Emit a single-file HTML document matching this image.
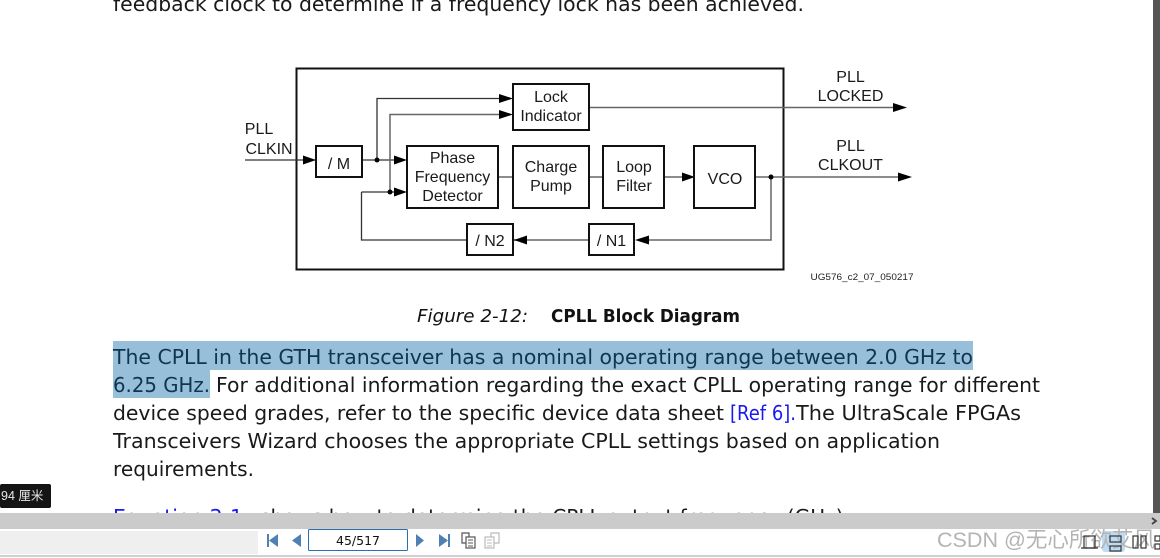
<!DOCTYPE html>
<html><head><meta charset="utf-8"><style>
html,body{margin:0;padding:0;background:#fff;width:1160px;height:558px;overflow:hidden}
svg{display:block}
.b{font-family:"DejaVu Sans",sans-serif;font-size:20px;fill:#1a1a1a}
.h{fill:#0f3550}
.d{font-family:"Liberation Sans",sans-serif;font-size:16px;fill:#1a1a1a;text-anchor:middle}
.box{fill:#fff;stroke:#111;stroke-width:2}
.l{fill:none;stroke:#333;stroke-width:1.3}
.g{fill:none;stroke:#666;stroke-width:1.5}
</style></head><body>
<svg width="1160" height="558" viewBox="0 0 1160 558" xmlns="http://www.w3.org/2000/svg">
<rect width="1160" height="558" fill="#fff"/>
<text class="b" x="113" y="11" textLength="691" lengthAdjust="spacingAndGlyphs">feedback clock to determine if a frequency lock has been achieved.</text>

<rect class="box" x="296.500" y="68.500" width="487" height="201"/>
<path class="l" d="M245 160H316M362 160H394M377 160V98.500H500"/>
<path class="g" d="M390 192V114.500H500M589 107.500H895M498 177H513M589 177H603M664 177H684M755 177H900M771 177V240H646M513 240H588"/>
<path class="l" d="M404 160H394M361.500 192H396M361.500 192V240H467M513 240H525"/>
<path d="M303 155.500L316 160L303 164.500ZM394 155.500L407 160L394 164.500ZM394 187.500L407 192L394 196.500ZM499 94L513 98.500L499 103ZM499 110L513 114.500L499 119ZM893 103L907 107.500L893 112ZM898 172.500L912 177L898 181.500ZM682 172.500L695 177L682 181.500ZM527 235.500L514 240L527 244.500ZM649 235.500L635 240L649 244.500Z" fill="#000"/>
<circle cx="377" cy="160" r="2.500" fill="#000"/><circle cx="390" cy="192" r="2.500" fill="#000"/><circle cx="771" cy="177" r="2.500" fill="#000"/>
<rect class="box" x="316" y="146" width="46" height="31"/>
<rect class="box" x="513" y="84" width="76" height="46"/>
<rect class="box" x="407" y="146" width="91" height="62"/>
<rect class="box" x="513" y="146" width="76" height="62"/>
<rect class="box" x="603" y="146" width="61" height="62"/>
<rect class="box" x="694" y="146" width="61" height="62"/>
<rect class="box" x="467" y="224" width="46" height="31"/>
<rect class="box" x="589" y="224" width="45" height="31"/>
<g>
<text class="d" x="339" y="169">/ M</text>
<text class="d" x="551" y="102">Lock</text><text class="d" x="551" y="121">Indicator</text>
<text class="d" x="452.500" y="163">Phase</text><text class="d" x="452.500" y="182">Frequency</text><text class="d" x="452.500" y="201">Detector</text>
<text class="d" x="551" y="172">Charge</text><text class="d" x="551" y="191">Pump</text>
<text class="d" x="634" y="172">Loop</text><text class="d" x="634" y="191">Filter</text>
<text class="d" x="725" y="184">VCO</text>
<text class="d" x="490" y="246">/ N2</text><text class="d" x="611.500" y="246">/ N1</text>
<text class="d" x="259" y="134">PLL</text><text class="d" x="269" y="154">CLKIN</text>
<text class="d" x="850.500" y="82">PLL</text><text class="d" x="850.500" y="101">LOCKED</text>
<text class="d" x="850.500" y="151">PLL</text><text class="d" x="850.500" y="170">CLKOUT</text>
<text x="862" y="280" text-anchor="middle" font-family="Liberation Sans,sans-serif" font-size="9.500" fill="#222" textLength="103" lengthAdjust="spacingAndGlyphs">UG576_c2_07_050217</text>
</g>

<text x="417" y="322" font-family="DejaVu Sans,sans-serif" font-style="italic" font-size="18" fill="#111" textLength="111" lengthAdjust="spacingAndGlyphs">Figure 2-12:</text>
<text x="551" y="322" font-family="DejaVu Sans,sans-serif" font-weight="bold" font-size="18" fill="#111" textLength="189" lengthAdjust="spacingAndGlyphs">CPLL Block Diagram</text>

<rect x="113" y="341" width="860" height="29" fill="#97bfda"/>
<rect x="113" y="370" width="97" height="28" fill="#97bfda"/>
<text class="b h" x="113" y="364" textLength="860" lengthAdjust="spacingAndGlyphs">The CPLL in the GTH transceiver has a nominal operating range between 2.0 GHz to</text>
<text class="b h" x="113" y="392" textLength="97" lengthAdjust="spacingAndGlyphs">6.25 GHz.</text>
<text class="b" x="216" y="392" textLength="824" lengthAdjust="spacingAndGlyphs">For additional information regarding the exact CPLL operating range for different</text>
<text class="b" x="113" y="420" textLength="611" lengthAdjust="spacingAndGlyphs">device speed grades, refer to the specific device data sheet</text>
<text class="b" x="730" y="420" textLength="66" lengthAdjust="spacingAndGlyphs" style="fill:#1a1af0">[Ref 6].</text>
<text class="b" x="796" y="420" textLength="225" lengthAdjust="spacingAndGlyphs">The UltraScale FPGAs</text>
<text class="b" x="113" y="448" textLength="827" lengthAdjust="spacingAndGlyphs">Transceivers Wizard chooses the appropriate CPLL settings based on application</text>
<text class="b" x="113" y="476" textLength="141" lengthAdjust="spacingAndGlyphs">requirements.</text>
<text class="b" x="113" y="524" textLength="130" lengthAdjust="spacingAndGlyphs" style="fill:#1a1af0">Equation 2-1</text>
<text class="b" x="260" y="524" textLength="590" lengthAdjust="spacingAndGlyphs">shows how to determine the CPLL output frequency (GHz).</text>

<rect x="0" y="484" width="51" height="24" rx="2" fill="#141414"/>
<text x="1" y="500" font-family="Liberation Sans,'Noto Sans CJK SC',sans-serif" font-size="12.500" fill="#e8e8e8">94 厘米</text>

<rect x="1153" y="0" width="7" height="513" fill="#555"/>
<rect x="0" y="513" width="1160" height="16" fill="#cbcbcb"/>
<path d="M1152 518L1156 521L1152 524" fill="none" stroke="#444" stroke-width="1.800"/>
<rect x="0" y="529" width="1160" height="29" fill="#fff"/>
<rect x="0" y="531" width="258" height="23" fill="#efefef"/>
<rect x="0" y="555" width="1160" height="2" fill="#d0d0d0"/>

<g fill="#4f80b3">
<rect x="267" y="534" width="2" height="13"/><path d="M278 534V547L269 540.500Z"/>
<path d="M301 534V547L292 540.500Z"/>
<path d="M416 534V547L424 540.500Z"/>
<path d="M439 534V547L448 540.500Z"/><rect x="448" y="534" width="2" height="13"/>
</g>
<rect x="308.500" y="529.500" width="99" height="21" rx="1" fill="#fff" stroke="#2a70b0" stroke-width="1"/>
<text x="358" y="545" text-anchor="middle" font-family="DejaVu Sans,sans-serif" font-size="12.500" fill="#111">45/517</text>

<g fill="#fff" stroke="#555" stroke-width="1.200">
<path d="M462 533H469V543H462Z"/><rect x="466" y="537" width="9" height="11"/>
<path d="M468 540H473M468 543H473M468 546H473" stroke-width="1"/>
</g>
<g fill="#fff" stroke="#bbb" stroke-width="1.200">
<path d="M491 533H499V543H491Z"/><rect x="485" y="537" width="9" height="11"/>
<path d="M487 540H492M487 543H492M487 546H492" stroke-width="1"/>
</g>

<rect x="1102" y="531" width="23" height="21" rx="3" fill="#bcdcf5"/>
<text x="937" y="547" font-family="Liberation Sans,'Noto Sans CJK SC',sans-serif" font-size="21.500" fill="#b4b4b4" textLength="218" lengthAdjust="spacingAndGlyphs">CSDN @无心所欲艾风</text>
<g fill="none" stroke="#333" stroke-width="1.200">
<rect x="1084" y="536" width="11" height="12"/><path d="M1081 548H1098"/>
<rect x="1110" y="536" width="11" height="6"/><rect x="1110" y="546" width="11" height="5"/>
<rect x="1133" y="536" width="5" height="12"/><rect x="1141" y="536" width="5" height="12"/>
<rect x="1155" y="536" width="5" height="5"/><rect x="1155" y="544" width="5" height="5"/>
</g>
</svg>
</body></html>
